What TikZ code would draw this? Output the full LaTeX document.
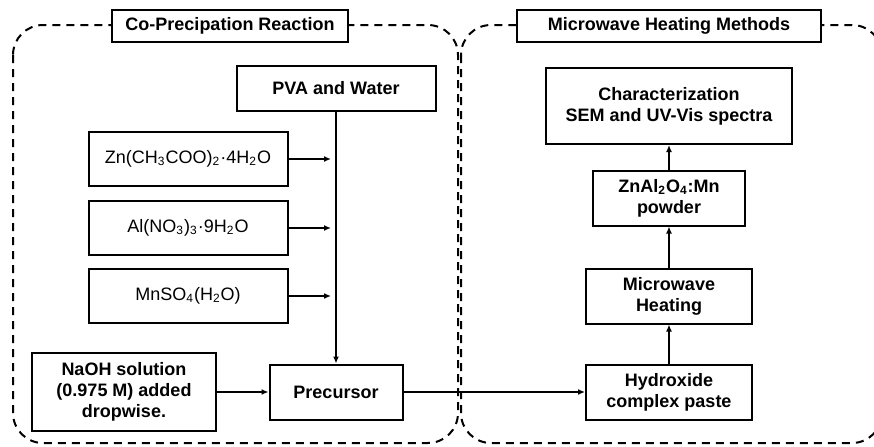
\documentclass[tikz,border=0pt]{standalone}
\usepackage{fontspec}
\setmainfont{Liberation Sans}
\usepackage{tikz}
\usetikzlibrary{arrows.meta,positioning,calc}

\begin{document}
\begin{tikzpicture}[x=0.5pt,y=-0.5pt,
    >={Latex[length=3.5pt,width=3pt]},
    every node/.style={font=\fontsize{9}{10.5}\selectfont},
    stage/.style={draw,line width=1pt,fill=white,font=\fontsize{9}{10.5}\selectfont\bfseries, align=center, inner sep=0pt},
    chem/.style={draw,line width=1pt,fill=white, align=center, inner sep=0pt, minimum width=99.5pt, minimum height=27pt},
    phase/.style={draw,line width=1pt,fill=white,font=\fontsize{9}{10.5}\selectfont\bfseries, inner sep=0pt, minimum height=16pt},
    group/.style={line width=1pt,dash pattern=on 4pt off 3pt,rounded corners=15pt},
    flow/.style={line width=0.8pt,->}
    ]
    % page frame (right group runs off the edge)
    \clip (0,0) rectangle (874,446);

    % the two process groups
    \draw[group] (13,25) rectangle (458,443);
    \draw[group] (461,25) rectangle (882,443);
    \node[phase,minimum width=118pt] (copre)   at (230,26) {Co-Precipation Reaction};
    \node[phase,minimum width=152pt] (mwave)   at (669,26) {Microwave Heating Methods};

    % co-precipitation side
    \node[stage,minimum width=99.5pt,minimum height=22.5pt] (pva) at (336,88) {PVA and Water};
    \node[chem] (zn)  at (188,159) {Zn(CH\textsubscript{3}COO)\textsubscript{2}·4H\textsubscript{2}O};
    \node[chem] (al)  at (188,228) {Al(NO\textsubscript{3})\textsubscript{3}·9H\textsubscript{2}O};
    \node[chem] (mn)  at (188,296) {MnSO\textsubscript{4}(H\textsubscript{2}O)};
    \node[stage,minimum width=92pt,minimum height=39pt] (naoh) at (124,392) {NaOH solution\\(0.975 M) added\\dropwise.};
    \node[stage,minimum width=66.5pt,minimum height=27.5pt] (prec) at (336,392) {Precursor};

    % microwave side
    \node[stage,minimum width=83pt,minimum height=27.5pt] (paste)  at (669,392) {Hydroxide\\complex paste};
    \node[stage,minimum width=83pt,minimum height=27.5pt] (heat)   at (669,296) {Microwave\\Heating};
    \node[stage,minimum width=76pt,minimum height=27.5pt] (powder) at (669,198) {ZnAl\textsubscript{2}O\textsubscript{4}:Mn\\powder};
    \node[stage,minimum width=123pt,minimum height=38pt] (charac) at (669,106) {Characterization\\SEM and UV-Vis spectra};

    \coordinate (feedzn) at (zn.east -| pva.south);
    \coordinate (feedal) at (al.east -| pva.south);
    \coordinate (feedmn) at (mn.east -| pva.south);

    \path (pva) edge [flow] (prec);
    \path (zn) edge [flow,shorten >=2.5pt] (feedzn);
    \path (al) edge [flow,shorten >=2.5pt] (feedal);
    \path (mn) edge [flow,shorten >=2.5pt] (feedmn);
    \path (naoh) edge [flow] (prec);
    \path (prec) edge [flow] (paste);
    \path (paste) edge [flow] (heat);
    \path (heat) edge [flow] (powder);
    \path (powder) edge [flow] (charac);
\end{tikzpicture}
\end{document}
